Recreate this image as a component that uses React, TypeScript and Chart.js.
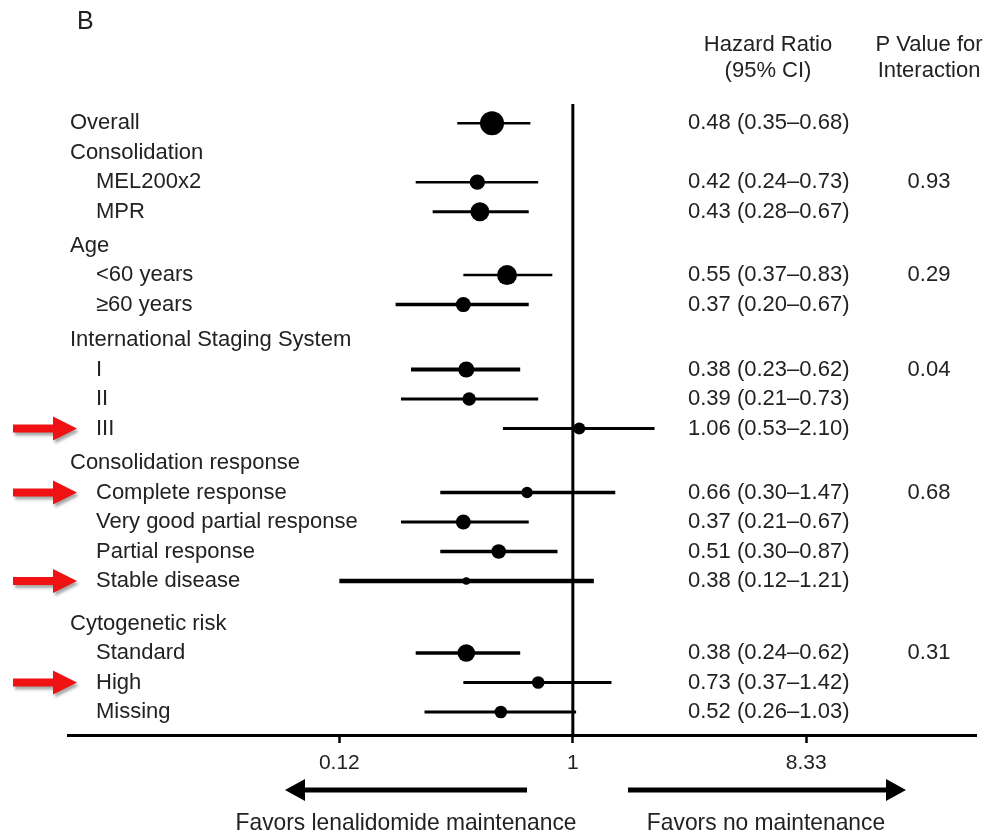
import { useEffect, useRef } from "react";
import { Chart, registerables } from "chart.js";

Chart.register(...registerables);

// ---- Forest plot data ----
const ROW_LABELS = [
  "Overall",
  "Consolidation",
  "MEL200x2",
  "MPR",
  "Age",
  "<60 years",
  "≥60 years",
  "International Staging System",
  "I",
  "II",
  "III",
  "Consolidation response",
  "Complete response",
  "Very good partial response",
  "Partial response",
  "Stable disease",
  "Cytogenetic risk",
  "Standard",
  "High",
  "Missing",
];

// Hazard ratio and 95% CI (null = group heading)
const HR = [0.48, null, 0.42, 0.43, null, 0.55, 0.37, null, 0.38, 0.39, 1.06, null, 0.66, 0.37, 0.51, 0.38, null, 0.38, 0.73, 0.52];
const CI_LOW = [0.35, null, 0.24, 0.28, null, 0.37, 0.2, null, 0.23, 0.21, 0.53, null, 0.3, 0.21, 0.3, 0.12, null, 0.24, 0.37, 0.26];
const CI_HIGH = [0.68, null, 0.73, 0.67, null, 0.83, 0.67, null, 0.62, 0.73, 2.1, null, 1.47, 0.67, 0.87, 1.21, null, 0.62, 1.42, 1.03];
const P_INTERACTION = [null, null, 0.93, null, null, 0.29, null, null, 0.04, null, null, null, 0.68, null, null, null, null, 0.31, null, null];

const TICK_VALUES = [0.12, 1, 8.33];
const TICK_LABELS = ["0.12", "1", "8.33"];
const FLAGGED_ROWS = ["III", "Complete response", "Stable disease", "High"];

// ---- Styling ----
const MARKER_RADIUS = [12, 0, 7.7, 9.5, 0, 10, 7.5, 0, 8, 6.7, 6, 0, 5.7, 7.5, 7.3, 3.8, 0, 8.8, 6.3, 6.3];
const CI_WIDTH = [2.5, 0, 2.5, 3, 0, 2.5, 3.5, 0, 4, 3, 3, 0, 3.5, 3, 3.5, 4.5, 0, 3.5, 3, 3];
const GROUP_GAPS = [0, 0.15, 0.2, 0.17, 0.44];
const FONT = '"Liberation Sans", Arial, Helvetica, sans-serif';
const TEXT = "#222";

// Vertical row positions (row units), with extra space before each group heading
const rowPos: number[] = [];
const rowIndent: number[] = [];
{
  let pos = 0;
  let header = 0;
  let seenHeader = false;
  ROW_LABELS.forEach((_, i) => {
    if (HR[i] == null) {
      pos += GROUP_GAPS[header++] ?? 0;
      seenHeader = true;
    }
    rowPos.push(pos);
    rowIndent.push(HR[i] != null && seenHeader ? 1 : 0);
    pos += 1;
  });
}

const fmt = (v: number) => v.toFixed(2);

function arrow(ctx: CanvasRenderingContext2D, x0: number, x1: number, y: number, shaft: number, headLen: number, headHalf: number) {
  const dir = Math.sign(x1 - x0);
  const base = x1 - dir * headLen;
  ctx.beginPath();
  ctx.moveTo(x0, y - shaft / 2);
  ctx.lineTo(base, y - shaft / 2);
  ctx.lineTo(base, y - headHalf);
  ctx.lineTo(x1, y);
  ctx.lineTo(base, y + headHalf);
  ctx.lineTo(base, y + shaft / 2);
  ctx.lineTo(x0, y + shaft / 2);
  ctx.closePath();
  ctx.fill();
}

// Slightly condensed text, as used under the axis
function narrowText(ctx: CanvasRenderingContext2D, text: string, cx: number, y: number, size: number, squeeze: number) {
  ctx.save();
  ctx.font = `${size}px ${FONT}`;
  ctx.textAlign = "center";
  ctx.translate(cx, y);
  ctx.scale(squeeze, 1);
  ctx.fillText(text, 0, 0);
  ctx.restore();
}

const forestText = {
  id: "forestText",
  beforeDatasetsDraw(chart: any) {
    const { ctx, chartArea, scales } = chart;
    const x1 = scales.x.getPixelForValue(1);
    ctx.save();
    ctx.strokeStyle = "#000";
    ctx.lineWidth = 3;
    ctx.beginPath();
    ctx.moveTo(x1, chartArea.top);
    ctx.lineTo(x1, chartArea.bottom);
    ctx.stroke();
    ctx.restore();
  },
  afterDraw(chart: any) {
    const { ctx, scales } = chart;
    const ys = scales.y;
    ctx.save();
    ctx.fillStyle = TEXT;
    ctx.textBaseline = "middle";

    // panel letter
    ctx.font = `25px ${FONT}`;
    ctx.textAlign = "left";
    ctx.fillText("B", 77, 22);

    // column headings
    ctx.font = `22px ${FONT}`;
    ctx.textAlign = "center";
    ctx.fillText("Hazard Ratio", 768, 45);
    ctx.fillText("(95% CI)", 768, 71);
    ctx.fillText("P Value for", 929, 45);
    ctx.fillText("Interaction", 929, 71);

    // rows
    ROW_LABELS.forEach((label, i) => {
      const y = ys.getPixelForValue(rowPos[i]);
      ctx.textAlign = "left";
      ctx.fillText(label, rowIndent[i] ? 96 : 70, y);
      const hr = HR[i];
      if (hr != null) {
        ctx.fillText(`${fmt(hr)} (${fmt(CI_LOW[i] as number)}–${fmt(CI_HIGH[i] as number)})`, 688, y);
      }
      const p = P_INTERACTION[i];
      if (p != null) {
        ctx.textAlign = "center";
        ctx.fillText(fmt(p), 929, y);
      }
    });

    // direction arrows
    ctx.fillStyle = "#000";
    arrow(ctx, 527, 285, 790, 5, 20, 11);
    arrow(ctx, 628, 906, 790, 5, 20, 11);
    ctx.fillStyle = TEXT;
    narrowText(ctx, "Favors lenalidomide maintenance", 406, 823, 24, 0.95);
    narrowText(ctx, "Favors no maintenance", 766, 823, 24, 0.95);

    // red markers for flagged subgroups
    ctx.fillStyle = "#f01212";
    ctx.shadowColor = "rgba(0,0,0,0.35)";
    ctx.shadowOffsetX = 2;
    ctx.shadowOffsetY = 3;
    ctx.shadowBlur = 3;
    FLAGGED_ROWS.forEach((name) => {
      const i = ROW_LABELS.indexOf(name);
      const y = ys.getPixelForValue(rowPos[i]);
      arrow(ctx, 13, 77, y, 8, 24, 12);
    });
    ctx.restore();
  },
};

export default function App() {
  const canvasRef = useRef<HTMLCanvasElement | null>(null);

  useEffect(() => {
    const canvas = canvasRef.current;
    if (!canvas) return;

    const ciSets = ROW_LABELS.map((_, i) => i)
      .filter((i) => HR[i] != null)
      .map((i) => ({
        type: "line" as const,
        data: [
          { x: CI_LOW[i], y: rowPos[i] },
          { x: CI_HIGH[i], y: rowPos[i] },
        ],
        borderColor: "#000",
        borderWidth: CI_WIDTH[i],
        borderCapStyle: "butt",
        pointRadius: 0,
        fill: false,
      }));

    const pointIdx = ROW_LABELS.map((_, i) => i).filter((i) => HR[i] != null);
    const pointSet = {
      type: "scatter" as const,
      data: pointIdx.map((i) => ({ x: HR[i], y: rowPos[i] })),
      pointRadius: pointIdx.map((i) => MARKER_RADIUS[i]),
      pointBackgroundColor: "#000",
      pointBorderColor: "#000",
      pointBorderWidth: 0,
      showLine: false,
    };

    const chart = new Chart(canvas, {
      type: "scatter",
      data: { datasets: [pointSet, ...ciSets] as any },
      options: {
        animation: false,
        responsive: false,
        events: [],
        layout: { padding: { left: 68, right: 10, top: 104, bottom: 59 } },
        plugins: { legend: { display: false }, tooltip: { enabled: false } },
        scales: {
          x: {
            type: "logarithmic",
            min: Math.pow(10, -1.991),
            max: Math.pow(10, 1.59),
            afterBuildTicks: (scale: any) => {
              scale.ticks = TICK_VALUES.map((v) => ({ value: v }));
            },
            afterFit: (scale: any) => {
              scale.height = 40;
            },
            ticks: {
              autoSkip: false,
              maxRotation: 0,
              padding: 8,
              color: TEXT,
              font: { family: FONT, size: 21 },
              callback: (v: any) => TICK_LABELS[TICK_VALUES.indexOf(Number(v))] ?? "",
            },
            grid: {
              display: true,
              drawOnChartArea: false,
              drawTicks: true,
              tickLength: 8,
              tickWidth: 2.5,
              tickColor: "#000",
              color: "#000",
            },
            border: { display: true, color: "#000", width: 3 },
          },
          y: {
            type: "linear",
            display: false,
            reverse: true,
            min: -0.65,
            max: 20.74,
          },
        },
      },
      plugins: [forestText],
    });

    return () => chart.destroy();
  }, []);

  return (
    <div style={{ position: "absolute", left: 0, top: 0, width: 988, height: 834, background: "#fff" }}>
      <canvas ref={canvasRef} width={988} height={834} style={{ display: "block" }} />
    </div>
  );
}
